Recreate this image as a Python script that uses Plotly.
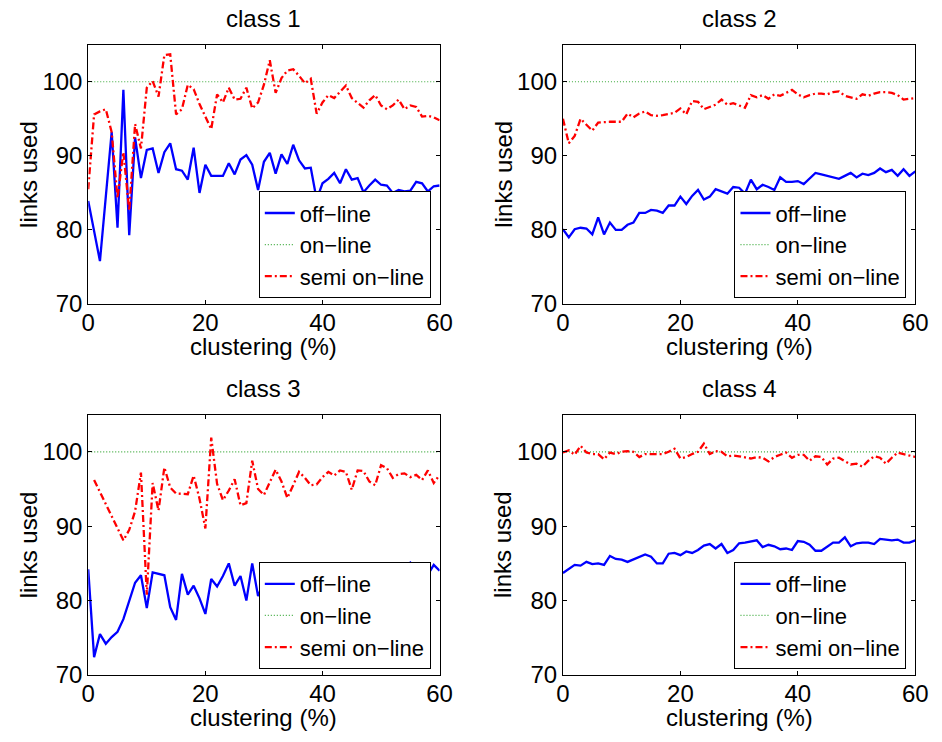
import plotly.graph_objects as go

x = list(range(61))

c1_off = [83.9, 80.0, 75.8, 84.5, 93.2, 80.3, 98.9, 79.3, 92.5, 87.0,
          90.8, 91.0, 87.7, 90.5, 91.7, 88.2, 88.0, 86.8, 91.1, 85.0,
          88.8, 87.3, 87.3, 87.3, 89.0, 87.5, 89.5, 90.1, 88.8, 85.4,
          89.2, 90.4, 87.6, 90.2, 88.9, 91.5, 89.4, 88.3, 88.4, 84.1,
          86.3, 86.9, 87.7, 86.3, 88.2, 86.8, 87.0, 85.1, 86.0, 86.8,
          86.1, 86.0, 85.0, 85.4, 85.2, 85.3, 86.5, 86.3, 85.2, 85.9, 86.0]
c1_semi = [85.5, 95.6, 96.0, 96.3, 93.2, 84.3, 90.5, 82.6, 94.3, 91.0,
           99.2, 100.1, 98.0, 103.6, 103.7, 95.6, 96.3, 99.6, 99.0, 97.0,
           95.3, 93.6, 98.3, 97.2, 99.2, 97.6, 97.7, 99.2, 96.4, 97.2,
           99.6, 102.9, 98.5, 100.5, 101.5, 101.7, 100.8, 99.8, 100.4, 95.7,
           97.2, 98.2, 97.8, 98.6, 99.5, 97.8, 97.2, 96.5, 97.5, 98.2,
           96.8, 96.3, 96.8, 97.6, 96.3, 96.8, 96.6, 95.3, 95.4, 95.2, 94.8]

c2_off = [80.1, 79.0, 80.1, 80.3, 80.2, 79.4, 81.7, 79.4, 81.0, 80.0,
          80.0, 80.7, 81.0, 82.3, 82.3, 82.7, 82.6, 82.3, 83.3, 83.3,
          84.5, 83.5, 84.6, 85.4, 84.1, 84.5, 85.5, 85.2, 84.9, 85.8,
          85.7, 84.9, 86.8, 85.5, 86.1, 85.8, 85.4, 87.1, 86.5, 86.5,
          86.6, 86.2, 86.9, 87.7, 87.5, 87.3, 87.1, 86.9, 87.3, 87.7,
          87.1, 87.6, 87.4, 87.7, 88.3, 87.8, 88.1, 87.3, 88.2, 87.3, 87.9]
c2_semi = [95.0, 91.7, 92.7, 95.0, 94.2, 93.4, 94.5, 94.6, 94.6, 94.6,
           94.6, 95.7, 95.2, 95.7, 96.0, 95.5, 95.4, 95.5, 95.7, 95.8,
           96.4, 95.6, 97.4, 97.3, 96.3, 96.6, 96.9, 97.6, 96.9, 97.1,
           96.8, 96.5, 98.2, 97.9, 98.2, 97.7, 98.3, 98.1, 98.5, 98.9,
           98.3, 97.9, 98.2, 98.4, 98.4, 98.3, 98.6, 98.7, 98.1, 97.9,
           97.7, 98.3, 98.1, 98.4, 98.6, 98.6, 98.5, 98.2, 97.6, 97.7, 97.8]

c3_off = [84.2, 72.4, 75.5, 74.2, 75.1, 75.8, 77.5, 80.0, 82.4, 83.4,
          79.0, 83.8, 83.6, 83.4, 79.1, 77.4, 83.6, 80.8, 82.0, 80.3,
          78.2, 82.9, 81.9, 83.3, 85.0, 82.0, 83.3, 80.0, 85.0, 80.6,
          82.5, 83.7, 83.2, 82.5, 83.4, 82.3, 82.0, 83.0, 82.4, 81.8,
          82.6, 82.2, 82.8, 83.1, 82.5, 82.0, 82.7, 82.3, 82.9, 82.6,
          83.7, 83.2, 84.2, 84.1, 84.6, 85.1, 83.9, 83.8, 83.5, 84.8, 84.0]
c3_semi = [None, 96.2, 94.6, 93.0, 91.3, 89.7, 88.1, 89.5, 92.0, 97.2,
           80.8, 95.8, 92.1, 97.9, 95.2, 94.4, 94.4, 94.3, 96.8, 93.7,
           89.7, 101.9, 95.7, 93.5, 94.8, 96.3, 92.8, 93.1, 98.8, 95.0,
           94.2, 95.8, 97.6, 96.0, 93.8, 95.5, 97.3, 96.5, 95.5, 95.6,
           96.6, 97.3, 96.8, 97.5, 97.3, 94.9, 97.5, 97.4, 96.0, 95.5,
           98.2, 97.8, 96.5, 97.0, 97.1, 96.6, 96.9, 96.2, 97.5, 95.8, 96.9]

c4_off = [83.7, 84.2, 84.8, 84.7, 85.2, 84.9, 85.0, 84.8, 86.0, 85.6,
          85.5, 85.2, 85.5, 85.9, 86.2, 85.9, 85.0, 85.0, 86.3, 86.4,
          86.1, 86.6, 86.4, 86.8, 87.4, 87.6, 87.0, 87.6, 86.4, 86.8,
          87.7, 87.8, 88.0, 88.1, 87.2, 87.5, 87.3, 86.9, 87.0, 86.8,
          88.0, 87.9, 87.5, 86.7, 86.7, 87.3, 87.8, 87.8, 88.5, 87.3,
          87.7, 87.8, 87.8, 87.6, 88.3, 88.2, 88.1, 88.2, 87.8, 87.8, 88.1]
c4_semi = [99.9, 100.2, 99.6, 100.8, 99.9, 99.7, 99.7, 99.0, 99.9, 99.7,
           100.0, 100.1, 100.0, 99.3, 99.7, 99.7, 99.7, 99.7, 100.0, 100.4,
           99.1, 99.3, 99.7, 100.0, 101.1, 99.7, 100.1, 100.0, 99.4, 99.5,
           99.4, 99.3, 99.1, 99.3, 99.2, 98.7, 99.3, 99.6, 99.9, 99.2,
           99.6, 99.6, 98.8, 99.4, 99.3, 98.3, 99.1, 99.2, 98.8, 98.3,
           98.4, 98.0, 98.8, 99.4, 99.2, 98.4, 99.2, 99.9, 99.7, 99.5, 99.3]

online = [100] * 61

titles = ["class 1", "class 2", "class 3", "class 4"]
off_series = [c1_off, c2_off, c3_off, c4_off]
semi_series = [c1_semi, c2_semi, c3_semi, c4_semi]
x_ticks = [0, 20, 40, 60]
y_ticks = [70, 80, 90, 100]

W, H = 942, 742
FONT = "Liberation Sans, Arial, Helvetica, sans-serif"
FS = 24


def px(v):
    return v / W


def py(v):
    return 1 - v / H


# plot areas in pixels (left, right) / (top, bottom)
cols = [(83, 442), (568, 928)]
rows = [(45.5, 309.5), (422, 687)]

fig = go.Figure()
layout = dict(
    width=W, height=H,
    margin=dict(l=0, r=0, t=0, b=0),
    paper_bgcolor="white", plot_bgcolor="white",
    font=dict(family=FONT, size=FS, color="black"),
    showlegend=True,
)
annotations = []

for i in range(4):
    r, c = divmod(i, 2)
    n = i + 1
    xa = "x" if n == 1 else f"x{n}"
    ya = "y" if n == 1 else f"y{n}"
    lg = "legend" if n == 1 else f"legend{n}"
    fig.add_trace(go.Scatter(x=x, y=off_series[i], mode="lines", name="off−line",
                             line=dict(color="#0000ff", width=2.3),
                             xaxis=xa, yaxis=ya, legend=lg))
    fig.add_trace(go.Scatter(x=x, y=online, mode="lines", name="on−line",
                             line=dict(color="#3caa3c", width=1.2, dash="1px,2px"),
                             xaxis=xa, yaxis=ya, legend=lg))
    fig.add_trace(go.Scatter(x=x, y=semi_series[i], mode="lines", name="semi on−line",
                             line=dict(color="#ff0000", width=2.3, dash="7px,3px,2px,3px"),
                             xaxis=xa, yaxis=ya, legend=lg))
    x0, x1 = cols[c]
    y0, y1 = rows[r]
    axcommon = dict(showline=True, linecolor="black", linewidth=1, mirror="ticks",
                    ticks="inside", ticklen=4, tickcolor="black", tickwidth=1,
                    showgrid=False, zeroline=False,
                    tickfont=dict(family=FONT, size=FS, color="black"))
    layout["xaxis" if n == 1 else f"xaxis{n}"] = dict(
        domain=[px(x0), px(x1)], range=[0, 60], tickvals=x_ticks,
        anchor=ya, ticklabelstandoff=-3, **axcommon)
    layout["yaxis" if n == 1 else f"yaxis{n}"] = dict(
        domain=[py(y1), py(y0)], range=[70, 105], tickvals=y_ticks,
        anchor=xa, **axcommon)
    layout[lg] = dict(x=px(x1 - 9), y=py(y1 - 6), xanchor="right", yanchor="bottom",
                      bgcolor="white", bordercolor="black", borderwidth=1,
                      font=dict(family=FONT, size=22, color="black"),
                      tracegroupgap=0)
    xc = (x0 + x1) / 2
    annotations.append(dict(text=titles[i], x=px(xc), y=py(y0 - 27),
                            xref="paper", yref="paper", showarrow=False,
                            xanchor="center", yanchor="middle",
                            font=dict(family=FONT, size=FS, color="black")))
    annotations.append(dict(text="clustering (%)", x=px(xc), y=py(y1 + 43.5),
                            xref="paper", yref="paper", showarrow=False,
                            xanchor="center", yanchor="middle",
                            font=dict(family=FONT, size=FS, color="black")))
    annotations.append(dict(text="links used", x=px(x0 - 61), y=py((y0 + y1) / 2),
                            xref="paper", yref="paper", showarrow=False, textangle=-90,
                            xanchor="center", yanchor="middle",
                            font=dict(family=FONT, size=FS, color="black")))

layout["annotations"] = annotations
fig.update_layout(**layout)
# remove the browser's default 8px body margin so the figure fills the window exactly
fig.write_html("out.html", config={"displayModeBar": False},
               post_script="document.body.style.margin='0px';")
